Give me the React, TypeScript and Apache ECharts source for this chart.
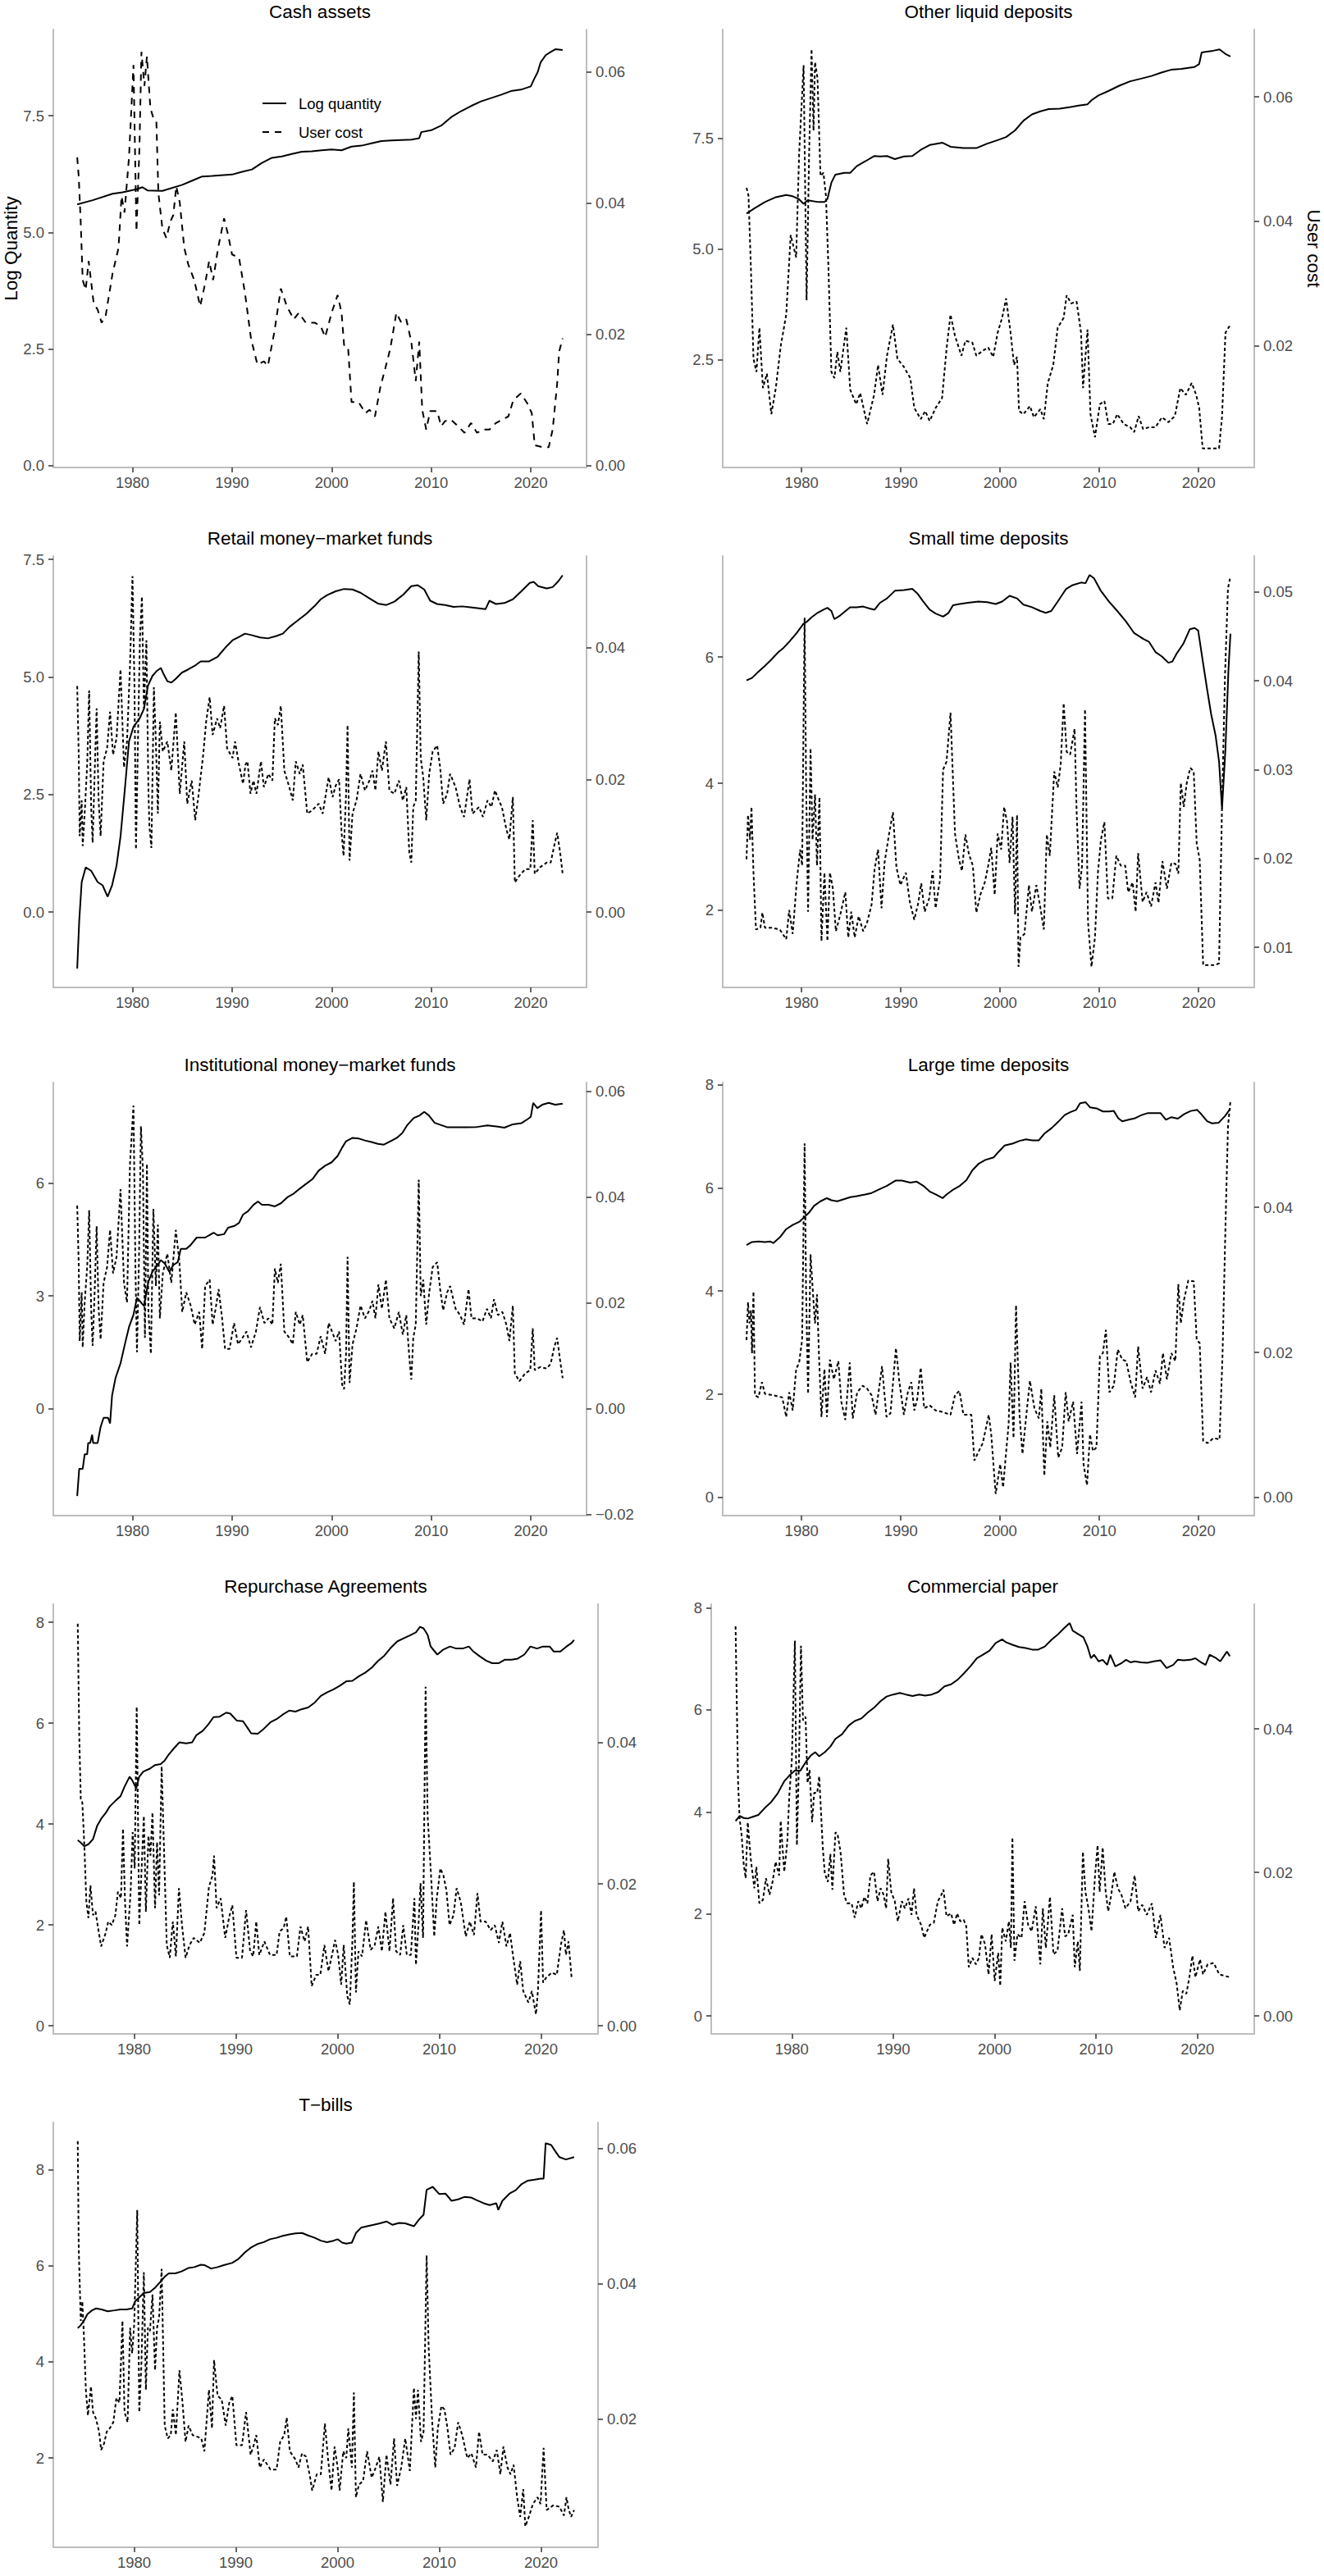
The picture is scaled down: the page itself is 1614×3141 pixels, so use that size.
import React, { useEffect, useRef } from 'react';
import * as echarts from 'echarts';

// log quantity (left axis) and user cost (right axis) share one scale: quantity = cost * K
const K = 140.6;
const X_MIN = 1972.05;
const X_MAX = 2025.6;
const yearTicks = [1980, 1990, 2000, 2010, 2020];

// ---- Cash assets ----
const cashQty = [[1974.45,5.6],[1976,5.69],[1978,5.83],[1979,5.86],[1980.5,5.93],[1981,5.97],[1981.5,5.9],[1983,5.89],[1985,6.02],[1986,6.11],[1987,6.2],[1988,6.21],[1990,6.24],[1991,6.3],[1992,6.35],[1993,6.49],[1994,6.6],[1995,6.63],[1996,6.68],[1997,6.73],[1998,6.74],[1999,6.76],[2000,6.78],[2001,6.76],[2001.5,6.8],[2002,6.84],[2003,6.86],[2004,6.91],[2005,6.96],[2006,6.97],[2007,6.98],[2008,6.99],[2008.8,7.02],[2009,7.15],[2010,7.19],[2011,7.29],[2012,7.47],[2013,7.6],[2014,7.71],[2015,7.81],[2016,7.88],[2017,7.95],[2018,8.03],[2019,8.06],[2020,8.13],[2020.3,8.27],[2020.7,8.44],[2021,8.65],[2021.5,8.8],[2022,8.87],[2022.5,8.93],[2023.2,8.91]];
const cashCost = [[1974.45,0.047],[1974.6,0.0441],[1974.8,0.0372],[1975.0,0.0283],[1975.3,0.0268],[1975.6,0.0312],[1976.1,0.0248],[1976.5,0.0238],[1976.9,0.0218],[1977.3,0.0228],[1978.0,0.0293],[1978.6,0.0332],[1978.9,0.0411],[1979.2,0.0386],[1979.65,0.047],[1980.1,0.0611],[1980.4,0.0357],[1980.7,0.0485],[1980.9,0.0631],[1981.2,0.0579],[1981.45,0.0624],[1981.8,0.0545],[1982.1,0.053],[1982.4,0.0525],[1982.6,0.0416],[1983.0,0.0362],[1983.4,0.0347],[1983.8,0.0372],[1984.1,0.0382],[1984.4,0.0426],[1984.75,0.0401],[1985.2,0.0332],[1985.6,0.0307],[1986.2,0.0283],[1986.8,0.0243],[1987.3,0.0278],[1987.7,0.0312],[1988.1,0.0283],[1988.6,0.0332],[1989.2,0.0377],[1989.6,0.0352],[1990.0,0.0322],[1990.7,0.0317],[1991.3,0.0263],[1991.9,0.0194],[1992.55,0.0154],[1993.2,0.0159],[1993.6,0.0152],[1994.25,0.0204],[1994.9,0.027],[1995.5,0.0243],[1996.2,0.0223],[1996.7,0.0233],[1997.4,0.0218],[1998.3,0.0218],[1998.9,0.0213],[1999.35,0.0196],[2000.0,0.0233],[2000.6,0.026],[2001.0,0.0233],[2001.25,0.0184],[2001.65,0.0181],[2002.0,0.0097],[2002.7,0.0097],[2003.4,0.008],[2003.8,0.0085],[2004.35,0.0075],[2004.9,0.012],[2005.4,0.0149],[2005.9,0.0179],[2006.5,0.0233],[2007.0,0.0218],[2007.5,0.0223],[2008.0,0.0189],[2008.45,0.0129],[2008.8,0.0189],[2009.1,0.0085],[2009.5,0.0055],[2009.9,0.0083],[2010.6,0.0083],[2011.0,0.006],[2011.4,0.0068],[2012.0,0.007],[2012.7,0.006],[2013.35,0.005],[2014.0,0.0065],[2014.6,0.005],[2015.2,0.0055],[2015.85,0.0055],[2016.5,0.0065],[2017.1,0.007],[2017.75,0.0075],[2018.25,0.01],[2019.0,0.011],[2019.65,0.0095],[2020.1,0.008],[2020.4,0.0031],[2021.2,0.0028],[2021.8,0.0028],[2022.2,0.0055],[2022.65,0.0125],[2022.85,0.0174],[2023.2,0.0194]];

// ---- Other liquid deposits ----
const otherQty = [[1974.45,5.8],[1975.2,5.91],[1976.3,6.06],[1977.4,6.17],[1978.45,6.22],[1979.1,6.19],[1979.7,6.13],[1980.2,6.02],[1980.6,6.1],[1981.7,6.06],[1982.3,6.06],[1982.6,6.13],[1983.0,6.5],[1983.4,6.68],[1984.3,6.72],[1984.9,6.72],[1985.55,6.87],[1986.4,6.98],[1987.3,7.1],[1987.9,7.09],[1988.6,7.1],[1989.4,7.03],[1990.3,7.09],[1991.15,7.1],[1992.0,7.24],[1992.9,7.35],[1994.2,7.4],[1995.0,7.31],[1996.3,7.28],[1997.6,7.28],[1998.7,7.38],[1999.75,7.46],[2000.6,7.53],[2001.5,7.68],[2002.35,7.9],[2003.2,8.04],[2004.05,8.11],[2004.9,8.16],[2006.0,8.17],[2007.1,8.21],[2007.9,8.24],[2008.8,8.27],[2009.2,8.36],[2009.9,8.47],[2010.9,8.57],[2012.0,8.69],[2013.1,8.79],[2014.2,8.85],[2015.25,8.91],[2016.3,8.99],[2017.2,9.05],[2018.25,9.07],[2019.55,9.11],[2020.05,9.18],[2020.3,9.44],[2020.8,9.46],[2021.45,9.48],[2022.1,9.51],[2022.75,9.4],[2023.2,9.35]];
const otherCost = [[1974.45,0.0454],[1974.65,0.0441],[1974.9,0.032],[1975.15,0.0179],[1975.45,0.0158],[1975.75,0.0229],[1976.1,0.0132],[1976.5,0.0155],[1976.95,0.009],[1977.4,0.0132],[1977.9,0.02],[1978.45,0.025],[1978.9,0.0378],[1979.45,0.0342],[1979.75,0.0509],[1980.2,0.0651],[1980.5,0.0273],[1980.75,0.0504],[1981.0,0.0677],[1981.2,0.0546],[1981.35,0.0656],[1981.6,0.063],[1981.9,0.0473],[1982.2,0.0478],[1982.45,0.0441],[1982.7,0.0326],[1983.0,0.0158],[1983.3,0.0148],[1983.6,0.019],[1983.9,0.0158],[1984.5,0.0229],[1984.9,0.0129],[1985.5,0.0106],[1985.9,0.0124],[1986.6,0.0074],[1987.3,0.0121],[1987.7,0.0169],[1988.15,0.0121],[1988.6,0.0184],[1989.2,0.0234],[1989.65,0.0179],[1990.3,0.0166],[1990.95,0.0148],[1991.35,0.01],[1992.0,0.0082],[1992.45,0.0095],[1992.9,0.0079],[1993.5,0.01],[1994.15,0.0116],[1994.6,0.0195],[1995.0,0.025],[1995.45,0.0216],[1996.1,0.0184],[1996.5,0.0208],[1997.2,0.0205],[1997.6,0.0184],[1998.25,0.0192],[1998.8,0.0197],[1999.3,0.0182],[1999.75,0.0221],[2000.2,0.0245],[2000.6,0.0276],[2001.05,0.0221],[2001.4,0.0169],[2001.7,0.0182],[2001.9,0.0095],[2002.35,0.009],[2003.0,0.0103],[2003.4,0.0085],[2004.05,0.0098],[2004.4,0.0082],[2004.8,0.014],[2005.35,0.0169],[2005.8,0.0229],[2006.4,0.0245],[2006.7,0.0281],[2007.15,0.0268],[2007.7,0.0271],[2008.15,0.0221],[2008.35,0.0132],[2008.8,0.0226],[2009.1,0.009],[2009.55,0.0053],[2010.05,0.0106],[2010.5,0.0111],[2010.9,0.0074],[2011.35,0.0074],[2011.8,0.009],[2012.45,0.0074],[2013.1,0.0069],[2013.5,0.0061],[2013.95,0.0087],[2014.4,0.0066],[2015.0,0.0069],[2015.65,0.0069],[2016.3,0.0085],[2016.95,0.0077],[2017.6,0.0087],[2018.15,0.0132],[2018.7,0.0121],[2019.3,0.014],[2019.75,0.0121],[2020.05,0.01],[2020.4,0.0035],[2021.25,0.0035],[2022.05,0.0035],[2022.35,0.0085],[2022.7,0.0221],[2023.2,0.0234]];

// ---- Retail money-market funds ----
const retailQty = [[1974.45,-1.2],[1974.65,-0.19],[1974.9,0.64],[1975.3,0.95],[1975.85,0.88],[1976.5,0.64],[1977.0,0.57],[1977.5,0.33],[1977.95,0.57],[1978.4,0.99],[1978.8,1.61],[1979.25,2.65],[1979.65,3.63],[1980.1,3.94],[1980.7,4.11],[1981.15,4.32],[1981.55,4.81],[1982.0,5.02],[1982.4,5.12],[1982.85,5.19],[1983.15,5.05],[1983.5,4.91],[1983.9,4.88],[1984.3,4.95],[1984.95,5.09],[1985.6,5.16],[1986.2,5.23],[1986.85,5.33],[1987.7,5.33],[1988.55,5.43],[1989.4,5.64],[1990.05,5.78],[1990.7,5.85],[1991.3,5.92],[1991.95,5.89],[1992.8,5.84],[1993.6,5.82],[1994.45,5.87],[1995.1,5.92],[1995.75,6.06],[1996.6,6.2],[1997.45,6.34],[1998.3,6.51],[1998.9,6.65],[1999.55,6.74],[2000.4,6.82],[2001.25,6.87],[2002.1,6.86],[2002.9,6.79],[2003.8,6.67],[2004.65,6.56],[2005.5,6.53],[2006.3,6.6],[2007.2,6.75],[2008.0,6.93],[2008.65,6.95],[2009.3,6.86],[2009.9,6.62],[2010.6,6.55],[2011.4,6.53],[2012.25,6.49],[2013.1,6.5],[2013.95,6.48],[2014.8,6.46],[2015.45,6.44],[2015.85,6.62],[2016.5,6.55],[2017.35,6.57],[2018.2,6.65],[2019.05,6.82],[2019.9,7.0],[2020.3,7.02],[2020.75,6.93],[2021.6,6.88],[2022.2,6.91],[2022.75,7.03],[2023.2,7.16]];
const retailCost = [[1974.45,0.0342],[1974.6,0.0238],[1974.7,0.0115],[1974.9,0.0169],[1975.0,0.01],[1975.2,0.0149],[1975.45,0.0223],[1975.65,0.0335],[1975.85,0.0159],[1976.0,0.0105],[1976.2,0.0209],[1976.4,0.0308],[1976.6,0.0169],[1976.8,0.0115],[1977.1,0.0228],[1977.45,0.0248],[1977.75,0.0303],[1978.05,0.0238],[1978.4,0.0263],[1978.8,0.0367],[1979.15,0.0219],[1979.45,0.0258],[1979.75,0.0372],[1980.0,0.0508],[1980.2,0.0342],[1980.35,0.0095],[1980.55,0.0258],[1980.75,0.0416],[1980.95,0.0477],[1981.15,0.0308],[1981.4,0.0411],[1981.6,0.0184],[1981.7,0.013],[1981.9,0.0097],[1982.15,0.034],[1982.35,0.0258],[1982.55,0.0149],[1982.75,0.0288],[1983.05,0.0243],[1983.5,0.0258],[1983.9,0.0214],[1984.35,0.0302],[1984.75,0.0179],[1985.2,0.0258],[1985.5,0.0164],[1985.95,0.0199],[1986.3,0.0139],[1986.65,0.0179],[1987.1,0.0238],[1987.4,0.0288],[1987.75,0.0325],[1988.05,0.0268],[1988.5,0.0293],[1988.8,0.0278],[1989.2,0.0312],[1989.5,0.0248],[1990.05,0.0233],[1990.3,0.0258],[1990.7,0.0223],[1991.1,0.0194],[1991.35,0.0223],[1991.55,0.0228],[1991.85,0.0179],[1992.15,0.0199],[1992.45,0.0179],[1992.9,0.0228],[1993.2,0.0189],[1993.65,0.0209],[1994.05,0.0199],[1994.3,0.0293],[1994.6,0.0283],[1994.9,0.0312],[1995.25,0.0214],[1995.75,0.0189],[1996.1,0.0169],[1996.4,0.0228],[1996.8,0.0209],[1997.1,0.0223],[1997.55,0.0149],[1998.05,0.0154],[1998.7,0.0164],[1999.1,0.0149],[1999.7,0.0204],[2000.1,0.0174],[2000.4,0.0191],[2000.75,0.0201],[2001.0,0.012],[2001.2,0.0085],[2001.45,0.0179],[2001.6,0.0283],[2001.8,0.0078],[2002.1,0.0149],[2002.5,0.0169],[2002.9,0.0209],[2003.35,0.0184],[2003.8,0.0199],[2004.1,0.0214],[2004.4,0.0184],[2004.7,0.0243],[2005.05,0.0214],[2005.45,0.0258],[2005.8,0.0184],[2006.3,0.0179],[2006.75,0.0199],[2007.15,0.0169],[2007.5,0.0189],[2007.8,0.009],[2008.0,0.0075],[2008.2,0.0159],[2008.45,0.0169],[2008.75,0.0394],[2008.95,0.0233],[2009.2,0.0204],[2009.5,0.0139],[2009.8,0.0209],[2010.15,0.0243],[2010.6,0.0252],[2010.9,0.0219],[2011.2,0.0164],[2011.6,0.0179],[2011.9,0.0209],[2012.45,0.0189],[2012.9,0.0159],[2013.3,0.0144],[2013.85,0.0201],[2014.15,0.0149],[2014.8,0.0159],[2015.2,0.0144],[2015.65,0.0169],[2016.05,0.0159],[2016.4,0.0184],[2016.8,0.0169],[2017.1,0.0159],[2017.55,0.0125],[2017.85,0.011],[2018.2,0.0174],[2018.4,0.0045],[2018.85,0.0055],[2019.45,0.0065],[2019.95,0.0065],[2020.2,0.0139],[2020.4,0.0058],[2020.95,0.0068],[2021.6,0.0075],[2022.0,0.0075],[2022.35,0.01],[2022.65,0.012],[2022.95,0.009],[2023.2,0.0058]];

// ---- Small time deposits ----
const smallQty = [[1974.45,5.63],[1975.0,5.67],[1975.65,5.77],[1976.3,5.86],[1976.95,5.96],[1977.6,6.07],[1978.2,6.15],[1978.85,6.26],[1979.5,6.38],[1980.15,6.52],[1980.6,6.57],[1981.0,6.63],[1981.6,6.7],[1982.2,6.75],[1982.6,6.78],[1983.0,6.73],[1983.3,6.6],[1983.8,6.65],[1984.5,6.74],[1984.9,6.79],[1985.55,6.79],[1986.2,6.8],[1986.85,6.77],[1987.35,6.75],[1987.9,6.86],[1988.6,6.93],[1989.4,7.05],[1990.3,7.06],[1991.15,7.08],[1991.65,7.01],[1992.2,6.89],[1992.9,6.75],[1993.5,6.69],[1994.25,6.64],[1994.8,6.7],[1995.25,6.82],[1995.9,6.84],[1996.75,6.86],[1997.8,6.88],[1998.7,6.87],[1999.55,6.84],[2000.2,6.88],[2000.95,6.97],[2001.7,6.93],[2002.35,6.83],[2003.2,6.79],[2004.05,6.73],[2004.6,6.7],[2005.15,6.73],[2005.8,6.88],[2006.65,7.08],[2007.3,7.14],[2008.15,7.18],[2008.6,7.17],[2009.0,7.3],[2009.45,7.25],[2010.1,7.06],[2010.95,6.88],[2011.8,6.73],[2012.65,6.57],[2013.5,6.38],[2014.4,6.29],[2015.0,6.24],[2015.65,6.08],[2016.3,6.01],[2016.95,5.91],[2017.35,5.93],[2017.8,6.06],[2018.45,6.21],[2019.1,6.44],[2019.6,6.46],[2019.95,6.42],[2020.4,5.95],[2020.85,5.49],[2021.25,5.1],[2021.7,4.76],[2022.05,4.35],[2022.35,3.6],[2022.7,4.56],[2023.0,5.8],[2023.2,6.37]];
const smallCost = [[1974.45,0.0199],[1974.6,0.0249],[1974.8,0.0221],[1974.95,0.0258],[1975.15,0.0184],[1975.4,0.012],[1975.85,0.0122],[1976.05,0.0139],[1976.3,0.0122],[1976.95,0.0122],[1977.8,0.012],[1978.45,0.0109],[1978.75,0.0142],[1979.1,0.0115],[1979.5,0.0173],[1979.85,0.021],[1980.05,0.0192],[1980.3,0.0471],[1980.45,0.0287],[1980.65,0.014],[1980.9,0.0324],[1981.1,0.0221],[1981.35,0.0272],[1981.55,0.0192],[1981.8,0.0269],[1982.0,0.0107],[1982.3,0.0184],[1982.6,0.0107],[1982.85,0.0184],[1983.15,0.0166],[1983.45,0.0118],[1983.9,0.0137],[1984.4,0.0162],[1984.7,0.0111],[1985.0,0.014],[1985.35,0.0111],[1985.75,0.0135],[1986.2,0.0118],[1986.6,0.0128],[1987.05,0.0148],[1987.35,0.0188],[1987.7,0.021],[1988.05,0.0144],[1988.35,0.0195],[1988.8,0.0227],[1989.2,0.0252],[1989.55,0.019],[1989.95,0.017],[1990.5,0.0184],[1990.9,0.0151],[1991.35,0.0131],[1991.75,0.015],[1992.05,0.0172],[1992.4,0.014],[1992.85,0.0155],[1993.2,0.0186],[1993.5,0.0144],[1993.95,0.0177],[1994.25,0.03],[1994.6,0.0309],[1995.0,0.0364],[1995.45,0.0228],[1995.85,0.0199],[1996.15,0.0186],[1996.5,0.0227],[1996.85,0.0205],[1997.25,0.0192],[1997.6,0.0139],[1998.0,0.0159],[1998.45,0.0173],[1998.8,0.0192],[1999.1,0.0212],[1999.45,0.0159],[1999.75,0.0228],[2000.1,0.021],[2000.4,0.0258],[2000.7,0.0241],[2000.95,0.0195],[2001.25,0.0247],[2001.5,0.0137],[2001.7,0.0249],[2001.85,0.0078],[2002.05,0.0111],[2002.45,0.0115],[2002.9,0.017],[2003.2,0.014],[2003.65,0.017],[2004.0,0.0148],[2004.4,0.012],[2004.7,0.0227],[2005.0,0.0203],[2005.45,0.0298],[2005.8,0.028],[2006.1,0.0306],[2006.4,0.0375],[2006.7,0.032],[2007.05,0.0317],[2007.5,0.0346],[2007.7,0.0254],[2008.0,0.0166],[2008.25,0.0192],[2008.55,0.0368],[2008.85,0.0129],[2009.2,0.0078],[2009.55,0.0111],[2009.85,0.0184],[2010.15,0.0221],[2010.5,0.0241],[2010.85,0.0155],[2011.3,0.0155],[2011.7,0.0203],[2012.15,0.0192],[2012.6,0.0192],[2012.9,0.0162],[2013.35,0.0173],[2013.65,0.014],[2013.9,0.0206],[2014.35,0.0151],[2014.75,0.0162],[2015.2,0.0146],[2015.65,0.0173],[2015.95,0.015],[2016.35,0.0197],[2016.8,0.0166],[2017.25,0.0195],[2017.65,0.0194],[2017.95,0.0183],[2018.2,0.0285],[2018.5,0.0258],[2018.8,0.0285],[2019.15,0.0302],[2019.5,0.0298],[2019.8,0.0217],[2020.1,0.0199],[2020.45,0.008],[2021.1,0.008],[2021.7,0.008],[2022.05,0.0082],[2022.35,0.0258],[2022.65,0.0405],[2022.95,0.0504],[2023.15,0.0515]];

// ---- Institutional money-market funds ----
const instQty = [[1974.45,-2.32],[1974.65,-1.6],[1975.0,-1.6],[1975.2,-1.21],[1975.45,-1.21],[1975.55,-0.91],[1975.75,-0.91],[1975.95,-0.69],[1976.05,-0.91],[1976.5,-0.91],[1976.8,-0.48],[1977.1,-0.24],[1977.55,-0.24],[1977.75,-0.39],[1977.95,0.35],[1978.3,0.82],[1978.8,1.21],[1979.25,1.73],[1979.65,2.17],[1980.1,2.5],[1980.45,2.95],[1980.75,2.86],[1981.15,2.73],[1981.6,3.38],[1982.0,3.64],[1982.4,3.77],[1982.85,3.95],[1983.25,3.86],[1983.7,3.64],[1984.1,3.82],[1984.55,3.9],[1984.85,4.25],[1985.4,4.25],[1985.8,4.34],[1986.45,4.55],[1987.3,4.55],[1988.15,4.68],[1988.55,4.61],[1989.2,4.64],[1989.6,4.81],[1990.25,4.86],[1990.7,4.94],[1991.1,5.16],[1991.6,5.25],[1992.15,5.42],[1992.6,5.51],[1993.0,5.42],[1993.65,5.42],[1994.3,5.38],[1994.9,5.46],[1995.55,5.62],[1996.2,5.72],[1996.8,5.85],[1997.45,5.98],[1998.1,6.11],[1998.7,6.33],[1999.35,6.46],[2000.0,6.55],[2000.6,6.72],[2001.05,6.94],[2001.45,7.11],[2002.1,7.2],[2002.75,7.18],[2003.35,7.13],[2004.0,7.09],[2004.65,7.04],[2005.25,7.02],[2005.9,7.11],[2006.55,7.2],[2007.1,7.33],[2007.6,7.54],[2008.25,7.73],[2008.8,7.79],[2009.3,7.89],[2009.75,7.8],[2010.35,7.6],[2011.0,7.54],[2011.65,7.48],[2012.5,7.48],[2013.55,7.48],[2014.6,7.49],[2015.65,7.53],[2016.7,7.5],[2017.35,7.47],[2018.2,7.56],[2019.05,7.59],[2019.7,7.7],[2020.0,7.76],[2020.25,8.13],[2020.65,7.99],[2021.15,8.08],[2021.8,8.13],[2022.45,8.08],[2023.2,8.11]];
const instCost = [[1974.45,0.0384],[1974.6,0.0274],[1974.7,0.0128],[1974.9,0.022],[1975.0,0.0116],[1975.2,0.0201],[1975.45,0.0268],[1975.65,0.0375],[1975.85,0.0189],[1976.0,0.0119],[1976.2,0.022],[1976.4,0.0345],[1976.6,0.0189],[1976.8,0.0131],[1977.1,0.0238],[1977.45,0.0268],[1977.75,0.0338],[1978.05,0.0256],[1978.4,0.0287],[1978.8,0.0415],[1979.15,0.0238],[1979.45,0.0201],[1979.75,0.0463],[1980.1,0.0573],[1980.3,0.0262],[1980.45,0.0107],[1980.65,0.0281],[1980.85,0.0534],[1981.05,0.0451],[1981.25,0.0134],[1981.45,0.0463],[1981.6,0.0183],[1981.85,0.0104],[1982.1,0.0378],[1982.35,0.0232],[1982.55,0.0348],[1982.75,0.0171],[1983.05,0.0256],[1983.5,0.0293],[1983.9,0.0238],[1984.35,0.0338],[1984.7,0.0281],[1985.0,0.0183],[1985.4,0.022],[1985.85,0.0195],[1986.25,0.0159],[1986.7,0.0183],[1987.0,0.0113],[1987.3,0.0232],[1987.75,0.0244],[1988.05,0.0159],[1988.35,0.0189],[1988.65,0.0226],[1989.0,0.0171],[1989.3,0.0113],[1989.75,0.0113],[1990.2,0.0162],[1990.6,0.0122],[1991.05,0.0134],[1991.45,0.0146],[1991.9,0.0116],[1992.4,0.0146],[1992.8,0.0192],[1993.25,0.0162],[1993.65,0.0171],[1994.05,0.0159],[1994.3,0.0265],[1994.6,0.0238],[1994.9,0.0274],[1995.25,0.0146],[1995.75,0.0134],[1996.1,0.0122],[1996.4,0.0183],[1996.8,0.0159],[1997.1,0.0177],[1997.55,0.0088],[1998.05,0.0104],[1998.5,0.0104],[1998.9,0.0137],[1999.35,0.0104],[1999.7,0.0162],[2000.1,0.0143],[2000.4,0.0128],[2000.75,0.0146],[2001.05,0.0046],[2001.25,0.0037],[2001.45,0.0104],[2001.6,0.0287],[2001.8,0.0049],[2002.1,0.0122],[2002.5,0.0152],[2002.9,0.0195],[2003.35,0.0171],[2003.8,0.0186],[2004.1,0.0204],[2004.4,0.0171],[2004.7,0.0235],[2005.05,0.0189],[2005.45,0.0244],[2005.8,0.0171],[2006.3,0.0152],[2006.75,0.0183],[2007.15,0.014],[2007.5,0.0177],[2007.8,0.0098],[2008.0,0.0055],[2008.2,0.0134],[2008.45,0.0159],[2008.75,0.0433],[2008.95,0.0213],[2009.2,0.0244],[2009.5,0.0159],[2009.8,0.022],[2010.15,0.0268],[2010.6,0.0277],[2010.9,0.0226],[2011.2,0.0186],[2011.6,0.022],[2011.9,0.0232],[2012.45,0.0189],[2012.9,0.0177],[2013.3,0.0159],[2013.75,0.0226],[2014.05,0.0171],[2014.6,0.0171],[2015.15,0.0165],[2015.6,0.0189],[2016.0,0.0171],[2016.3,0.0207],[2016.7,0.0177],[2017.15,0.0183],[2017.55,0.0159],[2017.85,0.0128],[2018.2,0.0195],[2018.4,0.0067],[2018.85,0.0052],[2019.45,0.0067],[2019.95,0.0073],[2020.2,0.0152],[2020.4,0.0073],[2020.95,0.0079],[2021.6,0.0076],[2022.0,0.0085],[2022.35,0.0116],[2022.65,0.0134],[2022.95,0.0091],[2023.2,0.0058]];

// ---- Large time deposits ----
const largeQty = [[1974.45,4.89],[1975.0,4.95],[1975.65,4.96],[1976.3,4.95],[1976.85,4.96],[1977.15,4.93],[1977.8,5.04],[1978.45,5.2],[1979.1,5.28],[1979.75,5.34],[1980.2,5.42],[1980.75,5.52],[1981.25,5.65],[1981.9,5.74],[1982.55,5.8],[1983.0,5.76],[1983.6,5.74],[1984.25,5.78],[1984.9,5.82],[1985.55,5.84],[1986.4,5.87],[1987.05,5.9],[1987.7,5.96],[1988.6,6.04],[1989.45,6.14],[1990.1,6.14],[1990.95,6.1],[1991.6,6.12],[1992.25,6.04],[1992.9,5.93],[1993.55,5.87],[1994.2,5.8],[1994.6,5.87],[1995.3,5.97],[1995.95,6.04],[1996.6,6.15],[1997.2,6.34],[1997.85,6.47],[1998.5,6.54],[1999.35,6.59],[1999.8,6.69],[2000.45,6.82],[2001.3,6.86],[2001.95,6.91],[2002.6,6.94],[2003.25,6.92],[2003.9,6.92],[2004.45,7.05],[2005.2,7.16],[2005.85,7.28],[2006.5,7.41],[2007.1,7.47],[2007.65,7.51],[2008.05,7.64],[2008.6,7.66],[2009.05,7.56],[2009.7,7.54],[2010.35,7.48],[2011.0,7.48],[2011.45,7.49],[2011.9,7.35],[2012.3,7.29],[2012.95,7.32],[2013.6,7.35],[2014.25,7.41],[2014.9,7.45],[2015.5,7.45],[2016.15,7.45],[2016.7,7.32],[2017.25,7.37],[2017.9,7.34],[2018.55,7.43],[2019.2,7.49],[2019.85,7.51],[2020.3,7.42],[2020.85,7.29],[2021.35,7.25],[2022.0,7.26],[2022.65,7.39],[2023.2,7.54]];
const largeCost = [[1974.45,0.0217],[1974.6,0.0269],[1974.75,0.024],[1974.9,0.0258],[1975.0,0.0199],[1975.15,0.0284],[1975.3,0.0141],[1975.65,0.0138],[1976.0,0.0159],[1976.3,0.0143],[1977.15,0.0141],[1978.05,0.0138],[1978.45,0.0111],[1978.75,0.0145],[1979.1,0.012],[1979.45,0.0177],[1979.75,0.0186],[1980.05,0.0217],[1980.3,0.0488],[1980.45,0.0285],[1980.65,0.0143],[1980.9,0.0335],[1981.15,0.028],[1981.35,0.024],[1981.55,0.028],[1981.75,0.0195],[1982.0,0.0111],[1982.3,0.0177],[1982.55,0.0111],[1982.85,0.019],[1983.25,0.0163],[1983.7,0.0188],[1984.0,0.0132],[1984.4,0.0107],[1984.85,0.0186],[1985.15,0.0109],[1985.6,0.0145],[1986.15,0.0154],[1986.6,0.015],[1987.05,0.0141],[1987.45,0.0114],[1988.1,0.0181],[1988.55,0.0111],[1988.95,0.0116],[1989.5,0.0206],[1989.85,0.0159],[1990.3,0.0114],[1990.7,0.0145],[1991.05,0.0159],[1991.35,0.012],[1991.65,0.0136],[1992.0,0.0179],[1992.35,0.0123],[1992.9,0.0127],[1993.5,0.012],[1994.15,0.0118],[1995.0,0.0114],[1995.45,0.0141],[1995.9,0.0147],[1996.3,0.0114],[1997.1,0.0114],[1997.4,0.0051],[1997.85,0.0064],[1998.25,0.0075],[1998.85,0.0114],[1999.1,0.0087],[1999.55,0.0005],[2000.0,0.0046],[2000.3,0.0014],[2000.55,0.0055],[2000.85,0.01],[2001.05,0.0186],[2001.35,0.0082],[2001.6,0.0265],[2001.95,0.0114],[2002.25,0.006],[2002.6,0.0109],[2003.0,0.0161],[2003.45,0.0123],[2003.9,0.0109],[2004.15,0.015],[2004.45,0.003],[2004.75,0.0105],[2005.05,0.0069],[2005.45,0.0141],[2005.85,0.0055],[2006.25,0.0069],[2006.6,0.0145],[2006.9,0.0105],[2007.35,0.0132],[2007.75,0.006],[2008.2,0.0132],[2008.4,0.0046],[2008.75,0.0017],[2009.05,0.0087],[2009.35,0.0064],[2009.7,0.0069],[2010.05,0.0195],[2010.35,0.0199],[2010.65,0.0231],[2011.0,0.0145],[2011.45,0.0154],[2011.85,0.0204],[2012.3,0.019],[2012.7,0.0188],[2013.15,0.0159],[2013.6,0.0138],[2013.9,0.0208],[2014.35,0.015],[2014.8,0.0166],[2015.2,0.0145],[2015.65,0.0175],[2016.1,0.0157],[2016.4,0.0199],[2016.8,0.0163],[2017.25,0.0199],[2017.65,0.0188],[2017.95,0.0294],[2018.2,0.024],[2018.5,0.0271],[2018.95,0.0299],[2019.5,0.0298],[2019.8,0.0217],[2020.1,0.0213],[2020.45,0.0078],[2020.9,0.0075],[2021.5,0.0082],[2022.1,0.008],[2022.4,0.0195],[2022.7,0.0375],[2022.95,0.0511],[2023.2,0.0547]];

// ---- Repurchase Agreements ----
const repoQty = [[1974.45,3.68],[1974.7,3.64],[1975.1,3.56],[1975.5,3.6],[1975.95,3.7],[1976.35,3.96],[1976.8,4.12],[1977.2,4.22],[1977.6,4.35],[1978.25,4.48],[1978.65,4.55],[1979.05,4.74],[1979.55,4.94],[1979.8,4.87],[1980.2,4.71],[1980.5,4.94],[1980.9,5.04],[1981.55,5.1],[1982.05,5.17],[1982.6,5.19],[1983.0,5.26],[1983.4,5.38],[1983.85,5.49],[1984.45,5.62],[1985.1,5.6],[1985.7,5.62],[1986.1,5.76],[1986.75,5.85],[1987.3,5.98],[1987.8,6.12],[1988.4,6.13],[1989.05,6.21],[1989.45,6.19],[1990.1,6.05],[1990.7,6.04],[1991.2,5.89],[1991.5,5.8],[1992.15,5.79],[1992.75,5.89],[1993.4,6.02],[1994.0,6.08],[1994.6,6.17],[1995.25,6.25],[1995.85,6.23],[1996.5,6.28],[1997.1,6.31],[1997.75,6.41],[1998.35,6.54],[1998.95,6.61],[1999.6,6.67],[2000.2,6.74],[2000.85,6.83],[2001.45,6.84],[2002.1,6.93],[2002.7,7.0],[2003.35,7.1],[2003.95,7.23],[2004.6,7.34],[2005.2,7.49],[2005.85,7.62],[2006.45,7.68],[2007.1,7.74],[2007.7,7.8],[2008.1,7.91],[2008.45,7.88],[2008.85,7.75],[2009.15,7.52],[2009.8,7.36],[2010.4,7.46],[2011.05,7.52],[2011.65,7.48],[2012.3,7.48],[2012.9,7.52],[2013.35,7.42],[2013.95,7.33],[2014.6,7.24],[2015.2,7.19],[2015.85,7.19],[2016.45,7.26],[2017.1,7.26],[2017.7,7.28],[2018.35,7.36],[2018.95,7.52],[2019.6,7.48],[2020.2,7.52],[2020.85,7.52],[2021.25,7.42],[2021.9,7.42],[2022.5,7.52],[2023.0,7.59],[2023.25,7.65]];
const repoCost = [[1974.45,0.0567],[1974.6,0.0408],[1974.75,0.032],[1974.9,0.0315],[1975.1,0.0254],[1975.3,0.0175],[1975.5,0.0152],[1975.7,0.0198],[1975.95,0.0156],[1976.2,0.0161],[1976.45,0.0138],[1976.75,0.0112],[1977.2,0.0131],[1977.45,0.0147],[1977.8,0.0142],[1978.15,0.0156],[1978.4,0.0189],[1978.7,0.018],[1978.9,0.0278],[1979.1,0.0175],[1979.3,0.0112],[1979.65,0.0189],[1979.85,0.0273],[1980.05,0.0222],[1980.25,0.045],[1980.5,0.0142],[1980.7,0.0212],[1980.95,0.0296],[1981.15,0.0161],[1981.4,0.0268],[1981.6,0.024],[1981.8,0.0301],[1982.05,0.0166],[1982.25,0.0259],[1982.45,0.0184],[1982.7,0.0366],[1982.95,0.024],[1983.2,0.0114],[1983.5,0.0096],[1983.8,0.0147],[1984.1,0.0098],[1984.4,0.0194],[1984.7,0.0142],[1985.05,0.0096],[1985.45,0.0114],[1985.85,0.0124],[1986.45,0.0117],[1986.9,0.0131],[1987.35,0.0196],[1987.7,0.0212],[1987.85,0.024],[1988.1,0.0166],[1988.5,0.018],[1988.95,0.0124],[1989.35,0.0154],[1989.65,0.017],[1990.05,0.0096],[1990.6,0.0096],[1991.0,0.0163],[1991.4,0.0105],[1991.7,0.0098],[1992.0,0.0147],[1992.3,0.01],[1992.8,0.0119],[1993.35,0.01],[1994.0,0.01],[1994.3,0.0133],[1994.7,0.0138],[1994.95,0.0154],[1995.3,0.0098],[1996.0,0.0098],[1996.35,0.014],[1996.75,0.0119],[1997.1,0.014],[1997.45,0.0056],[1997.9,0.0072],[1998.3,0.0072],[1998.7,0.0114],[1999.1,0.0077],[1999.45,0.01],[1999.75,0.0121],[2000.05,0.01],[2000.35,0.0058],[2000.6,0.0114],[2000.95,0.0042],[2001.2,0.003],[2001.45,0.0119],[2001.6,0.0203],[2001.8,0.0047],[2002.05,0.0105],[2002.4,0.0098],[2002.8,0.0149],[2003.25,0.0107],[2003.65,0.0114],[2004.0,0.014],[2004.35,0.0105],[2004.7,0.0161],[2005.1,0.0105],[2005.45,0.018],[2005.75,0.0105],[2006.15,0.01],[2006.45,0.0142],[2006.8,0.01],[2007.2,0.01],[2007.55,0.018],[2007.7,0.0086],[2007.95,0.0142],[2008.15,0.0201],[2008.4,0.0124],[2008.65,0.0478],[2008.85,0.0296],[2009.2,0.0208],[2009.5,0.0126],[2009.75,0.018],[2010.1,0.0222],[2010.4,0.0212],[2010.7,0.0191],[2011.0,0.0142],[2011.4,0.0156],[2011.7,0.0194],[2012.1,0.0175],[2012.6,0.0126],[2013.0,0.0147],[2013.4,0.0128],[2013.75,0.0187],[2014.05,0.0147],[2014.55,0.0147],[2015.05,0.0135],[2015.45,0.0142],[2015.85,0.0117],[2016.2,0.0147],[2016.6,0.0112],[2016.95,0.0131],[2017.25,0.0098],[2017.65,0.0058],[2017.95,0.0091],[2018.25,0.0049],[2018.75,0.0033],[2019.1,0.0049],[2019.5,0.0016],[2019.7,0.0051],[2020.0,0.0163],[2020.2,0.0061],[2020.5,0.0068],[2021.05,0.0075],[2021.55,0.0072],[2021.95,0.0114],[2022.25,0.0135],[2022.45,0.01],[2022.7,0.0119],[2023.0,0.0068]];

// ---- Commercial paper ----
const cpQty = [[1974.45,3.82],[1974.85,3.92],[1975.25,3.88],[1975.65,3.87],[1976.1,3.9],[1976.7,3.94],[1977.35,4.08],[1977.95,4.19],[1978.6,4.36],[1979.25,4.6],[1979.75,4.71],[1980.3,4.81],[1980.85,4.81],[1981.35,4.97],[1981.85,5.1],[1982.3,5.17],[1982.7,5.09],[1983.25,5.17],[1983.8,5.28],[1984.3,5.43],[1984.95,5.52],[1985.6,5.69],[1986.2,5.78],[1986.85,5.83],[1987.45,5.94],[1988.1,6.04],[1988.75,6.17],[1989.35,6.26],[1990.0,6.3],[1990.65,6.33],[1991.25,6.3],[1991.9,6.27],[1992.55,6.3],[1993.15,6.28],[1993.8,6.3],[1994.45,6.35],[1995.05,6.46],[1995.7,6.5],[1996.35,6.59],[1997.0,6.72],[1997.6,6.85],[1998.25,7.01],[1998.85,7.08],[1999.5,7.16],[2000.1,7.31],[2000.75,7.38],[2001.15,7.32],[2001.8,7.27],[2002.4,7.23],[2003.05,7.21],[2003.7,7.18],[2004.3,7.18],[2004.95,7.24],[2005.6,7.37],[2006.2,7.47],[2006.85,7.6],[2007.4,7.7],[2007.7,7.55],[2008.35,7.47],[2008.75,7.42],[2009.15,7.24],[2009.5,7.01],[2009.8,7.08],[2010.25,6.95],[2010.65,6.98],[2011.1,6.88],[2011.4,7.08],[2011.9,6.85],[2012.55,6.92],[2012.95,6.98],[2013.4,6.93],[2013.8,6.95],[2014.45,6.93],[2015.05,6.92],[2015.7,6.95],[2016.35,6.97],[2016.95,6.82],[2017.6,6.88],[2018.05,6.98],[2018.65,6.97],[2019.3,6.98],[2019.8,7.01],[2020.35,6.93],[2020.8,6.88],[2021.2,7.08],[2021.85,7.01],[2022.25,6.95],[2022.9,7.14],[2023.2,7.05]];
const cpCost = [[1974.45,0.0543],[1974.6,0.0412],[1974.7,0.0325],[1974.85,0.0275],[1975.05,0.0252],[1975.25,0.0212],[1975.45,0.0192],[1975.65,0.027],[1975.95,0.0219],[1976.3,0.0178],[1976.5,0.0208],[1976.8,0.0157],[1977.15,0.0162],[1977.45,0.0192],[1977.8,0.0169],[1978.1,0.0187],[1978.4,0.0215],[1978.75,0.0196],[1978.9,0.0272],[1979.25,0.0201],[1979.55,0.0242],[1979.75,0.0307],[1980.0,0.0357],[1980.3,0.0523],[1980.5,0.0238],[1980.7,0.0353],[1980.9,0.0516],[1981.1,0.0412],[1981.35,0.0417],[1981.55,0.0325],[1981.75,0.0343],[1982.0,0.027],[1982.2,0.0311],[1982.5,0.0311],[1982.7,0.0334],[1983.05,0.0235],[1983.25,0.0199],[1983.55,0.0187],[1983.8,0.0226],[1984.0,0.0176],[1984.3,0.0256],[1984.5,0.0254],[1984.8,0.0229],[1985.15,0.0169],[1985.45,0.0157],[1985.9,0.0157],[1986.2,0.0137],[1986.55,0.016],[1986.85,0.015],[1987.15,0.0166],[1987.45,0.0157],[1987.75,0.0196],[1988.1,0.0201],[1988.45,0.016],[1988.75,0.0178],[1989.05,0.0169],[1989.3,0.015],[1989.5,0.0219],[1989.8,0.0173],[1990.15,0.016],[1990.45,0.0132],[1990.85,0.016],[1991.15,0.015],[1991.5,0.0164],[1991.8,0.0141],[1992.05,0.0178],[1992.3,0.0141],[1992.75,0.0127],[1993.05,0.0109],[1993.6,0.0127],[1994.0,0.013],[1994.4,0.016],[1994.75,0.0169],[1994.95,0.0176],[1995.25,0.0139],[1995.7,0.0143],[1996.0,0.0127],[1996.3,0.0143],[1996.6,0.0132],[1996.95,0.0134],[1997.2,0.0125],[1997.45,0.0068],[1997.8,0.0081],[1998.15,0.0072],[1998.45,0.0081],[1998.7,0.0114],[1999.05,0.01],[1999.4,0.0058],[1999.7,0.0114],[2000.0,0.0049],[2000.35,0.0088],[2000.55,0.0042],[2000.75,0.0123],[2001.1,0.0104],[2001.4,0.0132],[2001.6,0.0095],[2001.75,0.0249],[2001.95,0.0077],[2002.25,0.0114],[2002.65,0.0109],[2002.95,0.016],[2003.3,0.0127],[2003.65,0.0118],[2004.05,0.0153],[2004.5,0.0072],[2004.75,0.015],[2005.05,0.0095],[2005.45,0.0166],[2005.8,0.0086],[2006.2,0.0091],[2006.65,0.015],[2006.95,0.0111],[2007.25,0.0114],[2007.7,0.0141],[2007.9,0.0068],[2008.2,0.0104],[2008.4,0.0063],[2008.7,0.0229],[2008.95,0.0173],[2009.25,0.015],[2009.55,0.0118],[2009.9,0.0196],[2010.15,0.0238],[2010.35,0.0173],[2010.65,0.0235],[2010.95,0.0173],[2011.2,0.0146],[2011.5,0.0169],[2011.8,0.0201],[2012.15,0.0178],[2012.5,0.0169],[2012.9,0.015],[2013.4,0.016],[2013.8,0.0196],[2014.15,0.0146],[2014.55,0.0155],[2015.0,0.0141],[2015.5,0.0157],[2015.9,0.0109],[2016.35,0.0141],[2016.75,0.0095],[2017.2,0.0109],[2017.6,0.0068],[2017.95,0.0045],[2018.25,0.0008],[2018.55,0.0035],[2018.9,0.0031],[2019.2,0.0054],[2019.5,0.0084],[2019.8,0.0054],[2020.25,0.0079],[2020.55,0.0058],[2021.0,0.0072],[2021.6,0.0074],[2022.15,0.0058],[2023.2,0.0054]];

// ---- T-bills ----
const tbillQty = [[1974.45,4.7],[1974.7,4.75],[1975.05,4.85],[1975.4,4.99],[1975.85,5.07],[1976.25,5.11],[1976.8,5.09],[1977.4,5.05],[1978.05,5.07],[1978.65,5.09],[1979.25,5.09],[1979.8,5.11],[1980.1,5.26],[1980.5,5.34],[1980.95,5.43],[1981.55,5.45],[1982.05,5.54],[1982.6,5.67],[1983.0,5.77],[1983.4,5.84],[1984.05,5.84],[1984.65,5.88],[1985.3,5.95],[1985.9,5.97],[1986.55,6.02],[1986.95,6.01],[1987.55,5.94],[1988.2,5.97],[1988.8,6.01],[1989.65,6.06],[1990.25,6.14],[1990.9,6.28],[1991.5,6.38],[1992.1,6.45],[1992.75,6.49],[1993.35,6.55],[1994.0,6.58],[1994.6,6.62],[1995.25,6.65],[1995.85,6.67],[1996.5,6.68],[1997.1,6.63],[1997.75,6.58],[1998.35,6.52],[1998.95,6.49],[1999.6,6.52],[2000.0,6.55],[2000.45,6.48],[2000.85,6.46],[2001.4,6.48],[2001.8,6.68],[2002.3,6.79],[2002.9,6.82],[2003.55,6.85],[2004.15,6.88],[2004.8,6.92],[2005.4,6.85],[2006.05,6.89],[2006.65,6.88],[2007.5,6.82],[2008.0,6.96],[2008.45,7.06],[2008.75,7.58],[2009.35,7.64],[2010.0,7.49],[2010.6,7.5],[2011.2,7.35],[2011.85,7.38],[2012.45,7.43],[2013.1,7.42],[2013.7,7.36],[2014.35,7.3],[2014.95,7.26],[2015.6,7.3],[2015.8,7.16],[2016.2,7.35],[2016.9,7.5],[2017.5,7.57],[2018.1,7.7],[2018.7,7.77],[2019.35,7.79],[2019.95,7.81],[2020.25,7.81],[2020.45,8.55],[2021.0,8.51],[2021.4,8.38],[2021.8,8.26],[2022.45,8.21],[2023.25,8.26]];
const tbillCost = [[1974.45,0.0611],[1974.55,0.0451],[1974.75,0.0345],[1974.9,0.0374],[1975.05,0.0326],[1975.25,0.0243],[1975.45,0.0205],[1975.75,0.0248],[1975.95,0.021],[1976.25,0.02],[1976.55,0.0181],[1976.75,0.0154],[1977.05,0.0164],[1977.3,0.0181],[1977.6,0.0186],[1977.95,0.0195],[1978.25,0.0231],[1978.55,0.0224],[1978.85,0.0345],[1979.05,0.021],[1979.35,0.0195],[1979.6,0.0335],[1979.8,0.0297],[1980.0,0.034],[1980.3,0.0509],[1980.5,0.021],[1980.7,0.0277],[1980.95,0.0417],[1981.15,0.0243],[1981.35,0.0335],[1981.55,0.033],[1981.8,0.0384],[1982.05,0.0272],[1982.25,0.0335],[1982.45,0.035],[1982.7,0.0422],[1983.0,0.019],[1983.3,0.0171],[1983.6,0.0176],[1983.8,0.0214],[1984.1,0.0176],[1984.45,0.0272],[1984.75,0.0224],[1985.05,0.0166],[1985.35,0.019],[1985.75,0.0176],[1986.3,0.0173],[1986.6,0.0171],[1986.9,0.0152],[1987.35,0.0243],[1987.65,0.0186],[1987.85,0.0287],[1988.2,0.0234],[1988.6,0.0229],[1989.0,0.019],[1989.35,0.0224],[1989.65,0.0234],[1990.05,0.0161],[1990.6,0.0161],[1991.0,0.021],[1991.45,0.0147],[1991.75,0.0161],[1992.0,0.0176],[1992.35,0.0128],[1992.75,0.014],[1993.4,0.0125],[1994.0,0.0125],[1994.35,0.0166],[1994.75,0.0176],[1995.0,0.0202],[1995.3,0.0152],[1995.85,0.014],[1996.15,0.0128],[1996.5,0.0149],[1996.9,0.0144],[1997.3,0.0113],[1997.5,0.0094],[1997.95,0.0118],[1998.35,0.0118],[1998.75,0.0193],[1999.05,0.0142],[1999.4,0.0094],[1999.7,0.0159],[2000.0,0.0128],[2000.2,0.0094],[2000.55,0.0152],[2000.85,0.0142],[2001.05,0.0186],[2001.4,0.0128],[2001.6,0.0239],[2001.8,0.0084],[2002.1,0.0103],[2002.5,0.0108],[2002.9,0.0152],[2003.35,0.0113],[2003.75,0.0128],[2004.1,0.0144],[2004.45,0.0077],[2004.8,0.0147],[2005.2,0.0103],[2005.55,0.0171],[2005.85,0.0101],[2006.25,0.0128],[2006.65,0.0171],[2007.1,0.0123],[2007.5,0.0246],[2007.7,0.02],[2007.9,0.0243],[2008.2,0.0166],[2008.45,0.0181],[2008.75,0.0442],[2008.95,0.0306],[2009.3,0.0195],[2009.6,0.0128],[2009.85,0.0186],[2010.2,0.0219],[2010.5,0.0214],[2010.8,0.0186],[2011.1,0.0147],[2011.5,0.0157],[2011.85,0.0195],[2012.25,0.0176],[2012.75,0.0142],[2013.15,0.0149],[2013.6,0.0128],[2013.9,0.0181],[2014.25,0.0147],[2014.75,0.0147],[2015.25,0.0137],[2015.65,0.0154],[2016.0,0.0118],[2016.3,0.0159],[2016.7,0.0128],[2017.0,0.0118],[2017.3,0.0132],[2017.65,0.0084],[2017.95,0.0055],[2018.25,0.0096],[2018.45,0.0041],[2018.8,0.0055],[2019.2,0.0074],[2019.65,0.0084],[2019.95,0.0074],[2020.25,0.0157],[2020.55,0.0065],[2021.2,0.0072],[2021.8,0.007],[2022.25,0.0057],[2022.5,0.0084],[2022.7,0.0067],[2022.95,0.0055],[2023.25,0.0065]];

type Pair = number[];

interface Panel {
  title: string;
  qty: Pair[];
  cost: Pair[];
  box: [number, number, number, number]; // left, top, right, bottom in px
  qRange: [number, number];
  qTicks: number[];
  qDigits: number;
  cTicks: number[];
  dash: number[];
}

const panels: Panel[] = [
  { title: 'Cash assets', qty: cashQty, cost: cashCost, box: [65, 36, 715, 570], qRange: [-0.04, 9.35], qTicks: [0, 2.5, 5, 7.5], qDigits: 1, cTicks: [0, 0.02, 0.04, 0.06], dash: [8, 7] },
  { title: 'Other liquid deposits', qty: otherQty, cost: otherCost, box: [881, 36, 1529, 570], qRange: [0.06, 9.96], qTicks: [2.5, 5, 7.5], qDigits: 1, cTicks: [0.02, 0.04, 0.06], dash: [4, 3] },
  { title: 'Retail money\u2212market funds', qty: retailQty, cost: retailCost, box: [65, 678, 715, 1204], qRange: [-1.6, 7.57], qTicks: [0, 2.5, 5, 7.5], qDigits: 1, cTicks: [0, 0.02, 0.04], dash: [4, 3] },
  { title: 'Small time deposits', qty: smallQty, cost: smallCost, box: [881, 678, 1529, 1204], qRange: [0.77, 7.6], qTicks: [2, 4, 6], qDigits: 0, cTicks: [0.01, 0.02, 0.03, 0.04, 0.05], dash: [4, 3] },
  { title: 'Institutional money\u2212market funds', qty: instQty, cost: instCost, box: [65, 1320, 715, 1848], qRange: [-2.84, 8.67], qTicks: [0, 3, 6], qDigits: 0, cTicks: [-0.02, 0, 0.02, 0.04, 0.06], dash: [4, 3] },
  { title: 'Large time deposits', qty: largeQty, cost: largeCost, box: [881, 1320, 1529, 1848], qRange: [-0.35, 8.04], qTicks: [0, 2, 4, 6, 8], qDigits: 0, cTicks: [0, 0.02, 0.04], dash: [4, 3] },
  { title: 'Repurchase Agreements', qty: repoQty, cost: repoCost, box: [65, 1956, 729, 2480], qRange: [-0.16, 8.36], qTicks: [0, 2, 4, 6, 8], qDigits: 0, cTicks: [0, 0.02, 0.04], dash: [4, 3] },
  { title: 'Commercial paper', qty: cpQty, cost: cpCost, box: [867, 1956, 1529, 2480], qRange: [-0.35, 8.07], qTicks: [0, 2, 4, 6, 8], qDigits: 0, cTicks: [0, 0.02, 0.04], dash: [4, 3] },
  { title: 'T\u2212bills', qty: tbillQty, cost: tbillCost, box: [65, 2588, 729, 3106], qRange: [0.14, 8.98], qTicks: [2, 4, 6, 8], qDigits: 0, cTicks: [0.02, 0.04, 0.06], dash: [4, 3] },
];

const FONT = '"Liberation Sans", Arial, Helvetica, sans-serif';
const TICK_TEXT = '#4D4D4D';
const axisLineStyle = { color: '#BDBDBD', width: 2 };
const tickLineStyle = { color: '#333333', width: 1.5 };

function fmtCost(v: number): string {
  const s = Math.abs(v).toFixed(2);
  return v < -1e-9 ? '\u2212' + s : s;
}

function buildOption(): echarts.EChartsOption {
  const grid: any[] = [];
  const xAxis: any[] = [];
  const yAxis: any[] = [];
  const series: any[] = [];
  const graphic: any[] = [];

  panels.forEach((p, i) => {
    const [l, t, r, b] = p.box;
    grid.push({ left: l, top: t, width: r - l, height: b - t, containLabel: false });

    xAxis.push({
      type: 'value',
      gridIndex: i,
      min: X_MIN,
      max: X_MAX,
      axisLine: { show: true, onZero: false, lineStyle: axisLineStyle },
      axisTick: { show: true, length: 6, customValues: yearTicks, lineStyle: tickLineStyle },
      axisLabel: { customValues: yearTicks, margin: 9, color: TICK_TEXT, fontSize: 18.5, fontFamily: FONT, formatter: (v: number) => String(v) },
      splitLine: { show: false },
    });

    yAxis.push({
      type: 'value',
      gridIndex: i,
      position: 'left',
      min: p.qRange[0],
      max: p.qRange[1],
      axisLine: { show: true, onZero: false, lineStyle: axisLineStyle },
      axisTick: { show: true, length: 6, customValues: p.qTicks, lineStyle: tickLineStyle },
      axisLabel: { customValues: p.qTicks, margin: 11, color: TICK_TEXT, fontSize: 18.5, fontFamily: FONT, formatter: (v: number) => v.toFixed(p.qDigits) },
      splitLine: { show: false },
    });

    yAxis.push({
      type: 'value',
      gridIndex: i,
      position: 'right',
      min: p.qRange[0] / K,
      max: p.qRange[1] / K,
      axisLine: { show: true, onZero: false, lineStyle: axisLineStyle },
      axisTick: { show: true, length: 6, customValues: p.cTicks, lineStyle: tickLineStyle },
      axisLabel: { customValues: p.cTicks, margin: 11, color: TICK_TEXT, fontSize: 18.5, fontFamily: FONT, formatter: fmtCost },
      splitLine: { show: false },
    });

    series.push({
      name: i === 0 ? 'Log quantity' : p.title + ' quantity',
      type: 'line',
      xAxisIndex: i,
      yAxisIndex: 2 * i,
      data: p.qty,
      symbol: 'none',
      silent: true,
      lineStyle: { color: '#000', width: 2 },
    });
    series.push({
      name: i === 0 ? 'User cost' : p.title + ' cost',
      type: 'line',
      xAxisIndex: i,
      yAxisIndex: 2 * i + 1,
      data: p.cost,
      symbol: 'none',
      silent: true,
      lineStyle: { color: '#000', width: 2, type: p.dash },
    });

    graphic.push({
      type: 'text',
      x: (l + r) / 2,
      y: t - 22,
      style: { text: p.title, font: `22.5px ${FONT}`, fill: '#000', textAlign: 'center', textVerticalAlign: 'middle', align: 'center', verticalAlign: 'middle' },
    });
  });

  // axis titles
  graphic.push({
    type: 'text',
    x: 13,
    y: 303,
    rotation: Math.PI / 2,
    style: { text: 'Log Quantity', font: `22.5px ${FONT}`, fill: '#000', textAlign: 'center', textVerticalAlign: 'middle', align: 'center', verticalAlign: 'middle' },
  });
  graphic.push({
    type: 'text',
    x: 1601,
    y: 303,
    rotation: -Math.PI / 2,
    style: { text: 'User cost', font: `22.5px ${FONT}`, fill: '#000', textAlign: 'center', textVerticalAlign: 'middle', align: 'center', verticalAlign: 'middle' },
  });

  // legend inside the first panel
  graphic.push({ type: 'line', shape: { x1: 320, y1: 126, x2: 349, y2: 126 }, style: { stroke: '#000', lineWidth: 2 } });
  graphic.push({ type: 'line', shape: { x1: 320, y1: 161, x2: 349, y2: 161 }, style: { stroke: '#000', lineWidth: 2, lineDash: [8, 7] } });
  graphic.push({ type: 'text', x: 364, y: 126, style: { text: 'Log quantity', font: `18.5px ${FONT}`, fill: '#000', textAlign: 'left', textVerticalAlign: 'middle', align: 'left', verticalAlign: 'middle' } });
  graphic.push({ type: 'text', x: 364, y: 161, style: { text: 'User cost', font: `18.5px ${FONT}`, fill: '#000', textAlign: 'left', textVerticalAlign: 'middle', align: 'left', verticalAlign: 'middle' } });

  return {
    animation: false,
    backgroundColor: '#ffffff',
    textStyle: { fontFamily: FONT },
    grid,
    xAxis,
    yAxis,
    series,
    graphic,
  };
}

export default function App() {
  const chartRef = useRef<HTMLDivElement>(null);

  useEffect(() => {
    document.body.style.margin = '0';
    if (!chartRef.current) return;
    const chart = echarts.init(chartRef.current, null, { renderer: 'svg' });
    chart.setOption(buildOption());
    return () => {
      chart.dispose();
    };
  }, []);

  return <div ref={chartRef} style={{ width: 1614, height: 3141 }} />;
}
